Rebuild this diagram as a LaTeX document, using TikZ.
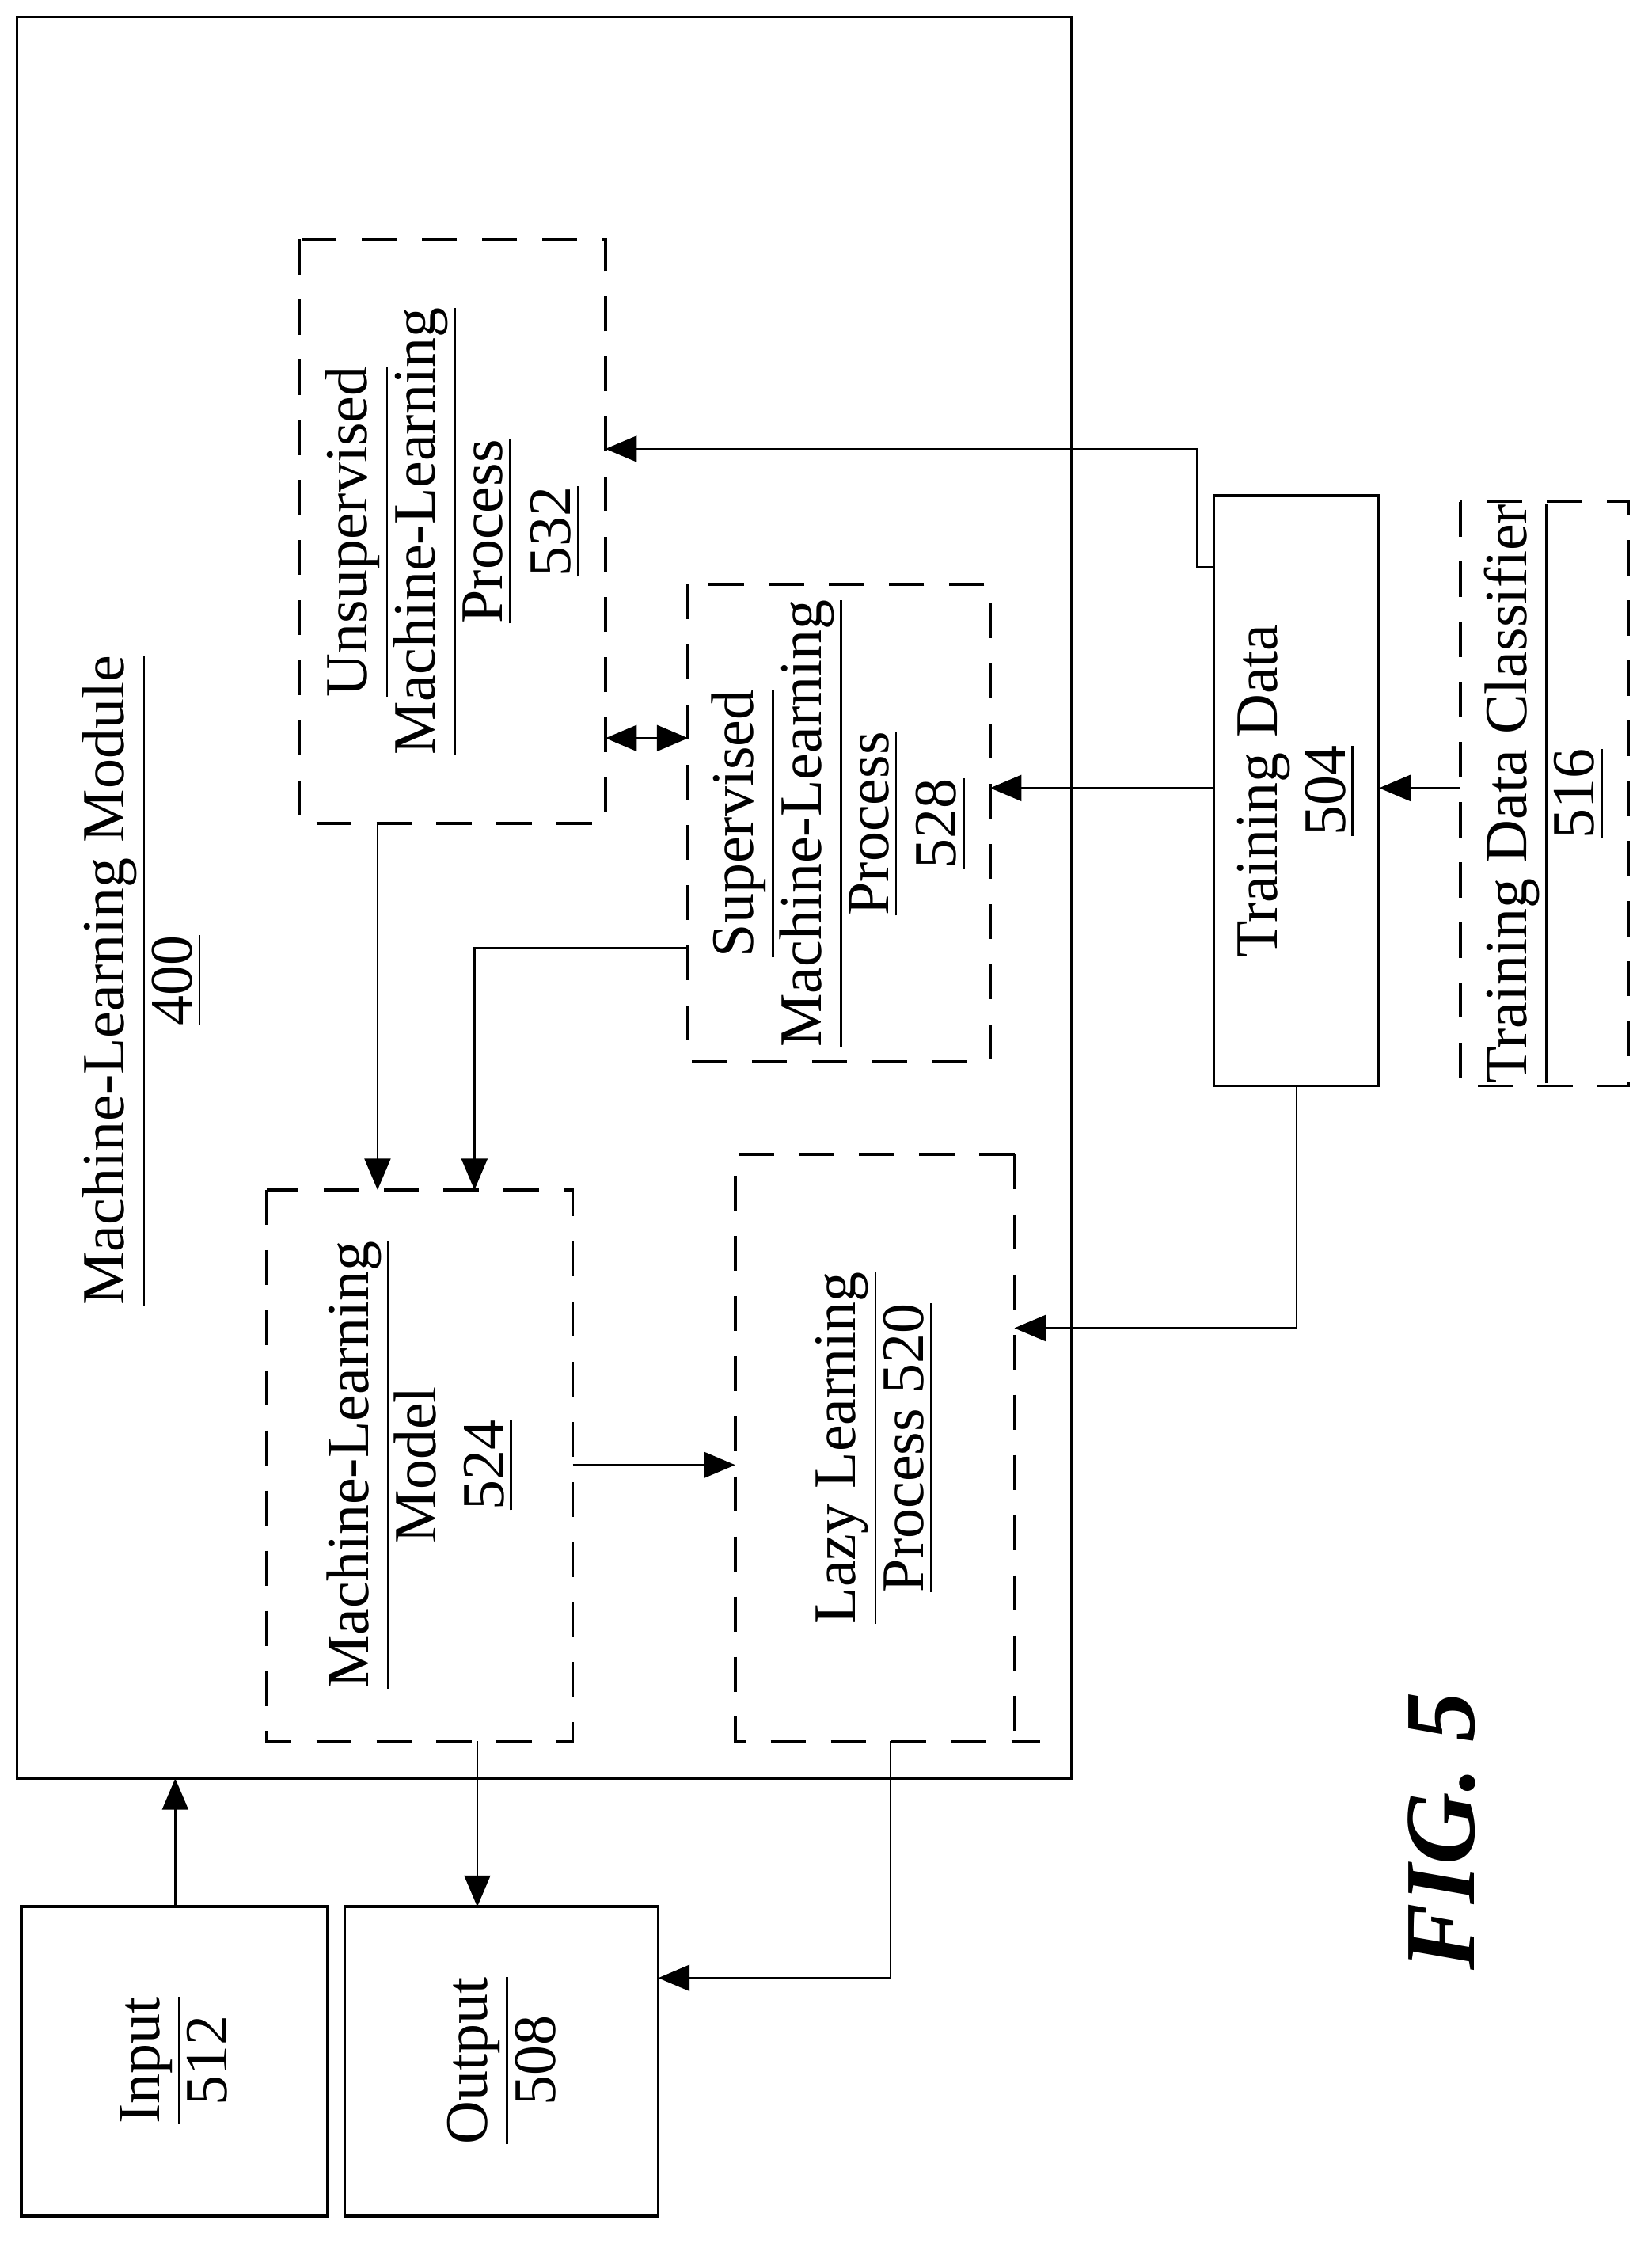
\documentclass[tikz,border=0pt]{standalone}
\usepackage{fontspec}
\setmainfont{Liberation Serif}
\usetikzlibrary{arrows,calc,positioning}
\begin{document}
\begin{tikzpicture}[x=0.01cm,y=-0.01cm,>=triangle 45,
  every node/.style={font=\fontsize{12}{13.5}\selectfont},
  dbox/.style={draw,dashed,dash pattern=on 7pt off 5pt,semithick},
  sbox/.style={draw,semithick},
  lbl/.style={rotate=90,align=center}]

    \useasboundingbox (0,0) rectangle (1159,1574);
    \draw[semithick] (12,12) rectangle (752,1248); % module

    \node[lbl] (mlm) at (100,688) {\underline{Machine-Learning Module}\\\underline{400}};

    \draw[dbox] (210,168) rectangle (425,578); % unsupervised
    \node[lbl] (uns) at (318,373) {\underline{Unsupervised}\\\underline{Machine-Learning}\\\underline{Process}\\\underline{532}};
    \draw[dbox] (483,410) rectangle (695,745); % supervised
    \node[lbl] (sup) at (589,578) {\underline{Supervised}\\\underline{Machine-Learning}\\\underline{Process}\\\underline{528}};
    \draw[sbox] (852,348) rectangle (968,762); % training data
    \node[lbl] (td) at (910,555) {Training Data\\\underline{504}};
    \draw[dbox] (1025,352) rectangle (1143,762); % classifier
    \node[lbl] (tdc) at (1084,557) {\underline{Training Data Classifier}\\\underline{516}};
    \draw[dbox] (187,835) rectangle (402,1222); % model
    \node[lbl] (mdl) at (295,1028) {\underline{Machine-Learning}\\Model\\\underline{524}};
    \draw[dbox] (712,810) -- (516,810) -- (516,1222) -- (730,1222);
    \draw[dbox] (712,810) -- (712,1222); % lazy
    \node[lbl] (lzy) at (614,1016) {\underline{Lazy Learning}\\\underline{Process 520}};
    \draw[sbox] (15,1338) rectangle (230,1555); % input
    \node[lbl] (inp) at (122,1446) {\underline{Input}\\512};
    \draw[sbox] (242,1338) rectangle (462,1555); % output
    \node[lbl] (out) at (352,1446) {\underline{Output}\\508};

    \node[rotate=90,font=\fontsize{20}{20}\selectfont\bfseries\itshape] (fig) at (1012,1285) {FIG. 5};

    % connectors
    \draw[->] (852,398) -- (840,398) -- (840,315) -- (425,315);
    \draw[->] (852,553) -- (695,553);
    \draw[->] (1025,553) -- (968,553);
    \draw[<->] (425,518) -- (483,518);
    \draw[->] (265,578) -- (265,835);
    \draw[->] (483,665) -- (333,665) -- (333,835);
    \draw[->] (910,762) -- (910,932) -- (712,932);
    \draw[->] (402,1028) -- (516,1028);
    \draw[->] (335,1222) -- (335,1338);
    \draw[->] (625,1222) -- (625,1388) -- (462,1388);
    \draw[->] (123,1338) -- (123,1248);
\end{tikzpicture}
\end{document}
